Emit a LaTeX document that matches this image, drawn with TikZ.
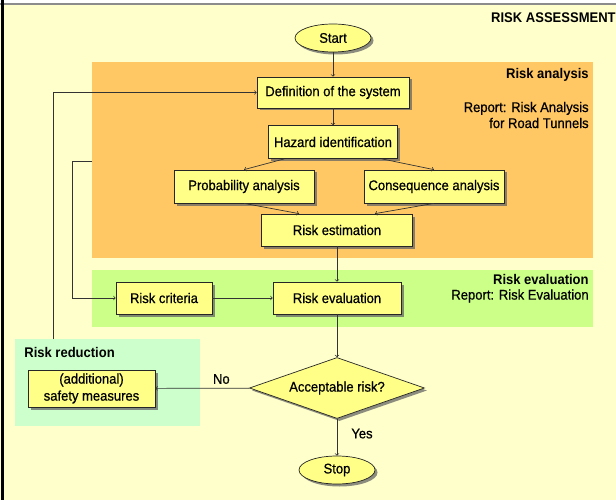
\documentclass[tikz,border=0pt]{standalone}
\usepackage{fontspec}
\setmainfont{Liberation Sans}[FakeStretch=0.93,UprightFeatures={FakeBold=0.6}]
\usetikzlibrary{shapes.geometric,shadows,calc}

\definecolor{bgyellow}{HTML}{FFFFCC}
\definecolor{boxyellow}{HTML}{FFFF88}
\definecolor{anlorange}{HTML}{FFC864}
\definecolor{evalgreen}{HTML}{CCFF88}
\definecolor{redmint}{HTML}{CCFFCC}

\tikzset{
  shade/.style={drop shadow={shadow xshift=2.5pt,shadow yshift=-2.5pt,fill=black!60,opacity=0.75}},
  box/.style={rectangle,draw=black!85,fill=boxyellow,inner sep=1pt,shade},
  term/.style={ellipse,draw=black!85,fill=boxyellow,inner sep=0pt,
    minimum width=76pt,minimum height=28pt,shade},
  decision/.style={diamond,draw=black!85,fill=boxyellow,inner sep=0pt,aspect=2.87,
    minimum width=175pt,minimum height=61pt,shade},
  region/.style={rectangle,draw=none,inner sep=0pt},
  head/.style={inner sep=0pt,font=\fontsize{14}{16}\selectfont\bfseries},
  note/.style={inner sep=0pt},
  lbl/.style={inner sep=0pt}
}

\begin{document}
\begin{tikzpicture}[x=1pt,y=-1pt,font=\fontsize{14}{16}\selectfont,
    line width=0.7pt,draw=black!80]
  \useasboundingbox (0,0) rectangle (616,500);
  % page frame
  \fill[bgyellow] (0,0) rectangle (616,500);
  \fill[white] (0,0) rectangle (616,3);
  \fill[black!45] (0,3) rectangle (616,5.5);
  \fill[black] (1,0) rectangle (3.5,500);

  % regions
  \node[region,fill=anlorange,minimum width=501pt,minimum height=196pt] (anl) at (342.5,160) {};
  \node[region,fill=evalgreen,minimum width=501pt,minimum height=57pt] (evl) at (342.5,298.5) {};
  \node[region,fill=redmint,minimum width=185pt,minimum height=87pt] (red) at (107.5,382.5) {};

  \node[head,anchor=east] (title) at (616,18) {RISK ASSESSMENT};
  \node[head,anchor=east] (anlhead) at (589,75) {Risk analysis};
  \node[note,anchor=east,align=right] (anlrep) at (589,115) {Report: Risk Analysis\\for Road Tunnels};
  \node[head,anchor=east] (evlhead) at (589,279) {Risk evaluation};
  \node[note,anchor=east] (evlrep) at (589,296) {Report: Risk Evaluation};
  \node[head,anchor=west] (redhead) at (24,352) {Risk reduction};

  % flow
  \node[term] (start) at (333,38) {Start};
  \node[box,minimum width=152pt,minimum height=31pt] (def) at (333,92.5) {Definition of the system};
  \node[box,minimum width=129pt,minimum height=33pt] (haz) at (333,142) {Hazard identification};
  \node[box,minimum width=140pt,minimum height=33pt] (prob) at (244,186.5) {Probability analysis};
  \node[box,minimum width=140pt,minimum height=33pt] (cons) at (434,186.5) {Consequence analysis};
  \node[box,minimum width=151pt,minimum height=32pt] (est) at (337,230) {Risk estimation};
  \node[box,minimum width=96pt,minimum height=32pt] (crit) at (164,298) {Risk criteria};
  \node[box,minimum width=128pt,minimum height=32pt] (eval) at (337,298) {Risk evaluation};
  \node[decision] (acc) at (337,388) {Acceptable risk?};
  \node[box,minimum width=127pt,minimum height=37pt,align=center,
    font=\fontsize{14}{17}\selectfont] (safe) at (91.5,388.5) {(additional)\\safety measures};
  \node[term] (stop) at (337,470) {Stop};

  \coordinate (redtop) at (53,339);
  \coordinate (anltap) at (92,161);
  \coordinate (loopb) at (72,161);

  \draw[->] (start) -- (def);
  \draw[->] (def) -- (haz);
  \draw[->] ($(haz.south)!0.75!(haz.south west)$) -- (prob.north);
  \draw[->] ($(haz.south)!0.75!(haz.south east)$) -- (cons.north);
  \draw[->] (prob.south) -- ($(est.north)!0.5!(est.north west)$);
  \draw[->] (cons.south) -- ($(est.north)!0.5!(est.north east)$);
  \draw[->] (est) -- (eval);
  \draw[->] (crit) -- (eval);
  \draw[->] (eval) -- (acc);
  \draw[->] (acc) -- node[lbl,pos=0.4,right=14pt] (yes) {Yes} (stop);
  \draw[->] (acc) -- node[lbl,pos=0.3,above=4pt] (no) {No} (safe);
  \draw[->] (redtop) |- (def);
  \draw[->] (anltap) -- (loopb) |- (crit);
\end{tikzpicture}
\end{document}
